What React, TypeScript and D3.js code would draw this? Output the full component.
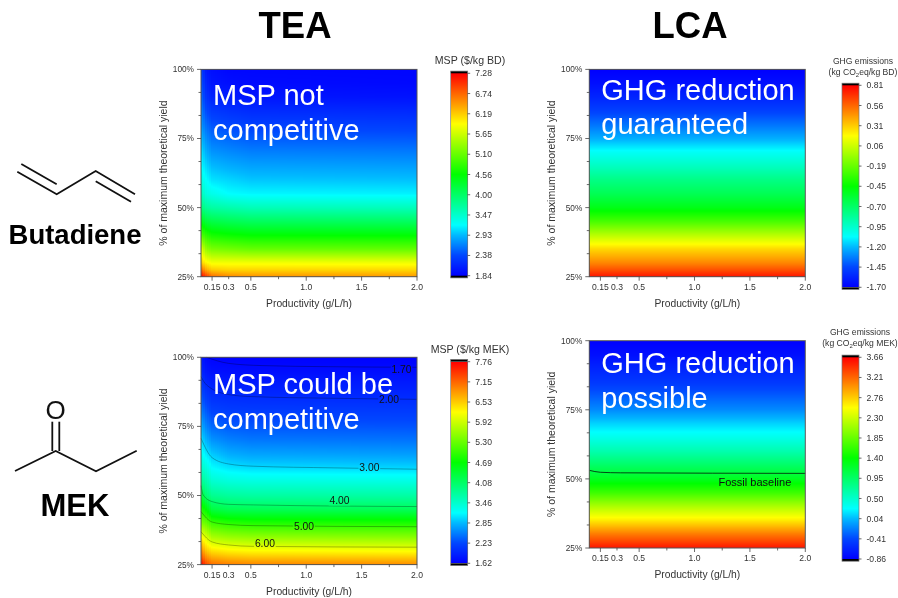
import React from "react";
import * as d3 from "d3";

const FONT = "'Liberation Sans', Arial, sans-serif";

const yields = [25, 27.5, 30, 35, 40, 45, 50, 55, 60, 65, 70, 75, 80, 85, 90, 95, 100];
const prods = [0.05, 0.1, 0.15, 0.3, 0.5, 2];
const flatProds = [0.05, 2];

const mspBd = [
  [7.28, 6.74, 6.19, 5.76, 4.99, 4.45, 3.91, 3.58, 3.36, 3.2, 3.09, 2.93, 2.76, 2.66, 2.55, 2.44, 2.33],
  [6.95, 6.35, 5.97, 5.32, 4.78, 4.23, 3.74, 3.36, 3.2, 3.04, 2.87, 2.71, 2.55, 2.38, 2.22, 2.11, 2.0],
  [6.7, 6.2, 5.87, 5.21, 4.67, 4.18, 3.69, 3.31, 3.09, 2.93, 2.76, 2.6, 2.44, 2.28, 2.11, 2.0, 1.95],
  [6.55, 6.14, 5.87, 5.16, 4.61, 4.12, 3.64, 3.2, 3.04, 2.87, 2.71, 2.55, 2.38, 2.22, 2.06, 1.95, 1.89],
  [6.5, 6.14, 5.87, 5.1, 4.56, 4.07, 3.58, 3.17, 2.98, 2.82, 2.66, 2.49, 2.33, 2.17, 2.0, 1.92, 1.89],
  [6.46, 6.12, 5.85, 5.08, 4.54, 4.05, 3.56, 3.15, 2.96, 2.8, 2.64, 2.47, 2.31, 2.15, 1.98, 1.9, 1.88],
];
const ghgBdColumn = [0.76, 0.61, 0.48, 0.28, 0.01, -0.27, -0.5, -0.65, -0.77, -0.92, -1.05, -1.22, -1.35, -1.47, -1.57, -1.65, -1.7];
const mspMek = [
  [7.76, 7.3, 6.95, 6.25, 5.45, 4.9, 4.35, 3.85, 3.5, 3.25, 3.03, 2.8, 2.55, 2.35, 2.15, 1.95, 1.85],
  [7.3, 6.9, 6.55, 5.97, 5.3, 4.65, 4.0, 3.65, 3.35, 3.05, 2.8, 2.55, 2.35, 2.15, 1.97, 1.8, 1.68],
  [7.1, 6.75, 6.4, 5.7, 5.05, 4.3, 3.82, 3.45, 3.15, 2.92, 2.65, 2.42, 2.22, 2.05, 1.9, 1.75, 1.65],
  [7.0, 6.65, 6.3, 5.6, 4.93, 4.2, 3.75, 3.38, 3.05, 2.78, 2.55, 2.35, 2.17, 2.02, 1.88, 1.74, 1.63],
  [6.95, 6.6, 6.25, 5.55, 4.88, 4.18, 3.72, 3.35, 3.0, 2.73, 2.5, 2.32, 2.16, 2.01, 1.87, 1.73, 1.63],
  [6.9, 6.55, 6.2, 5.5, 4.85, 4.15, 3.7, 3.33, 2.97, 2.7, 2.48, 2.3, 2.15, 2.0, 1.87, 1.73, 1.63],
];
const ghgMekColumn = [3.57, 3.34, 3.12, 2.62, 2.17, 1.67, 1.26, 0.95, 0.63, 0.36, 0.13, -0.14, -0.32, -0.5, -0.63, -0.77, -0.86];

const xTicksMajor = [0.15, 0.5, 1.0, 1.5, 2.0];
const xTickLabels = [
  { v: 0.15, t: "0.15" }, { v: 0.3, t: "0.3" }, { v: 0.5, t: "0.5" },
  { v: 1.0, t: "1.0" }, { v: 1.5, t: "1.5" }, { v: 2.0, t: "2.0" },
];
const xTicksMinor = [0.3, 0.75, 1.25, 1.75];
const yTicksMajor = [25, 50, 75, 100];
const yTicksMinor = [33.33, 41.67, 58.33, 66.67, 83.33, 91.67];

const bdMspTicks = ["1.84", "2.38", "2.93", "3.47", "4.00", "4.56", "5.10", "5.65", "6.19", "6.74", "7.28"];
const bdGhgTicks = ["-1.70", "-1.45", "-1.20", "-0.95", "-0.70", "-0.45", "-0.19", "0.06", "0.31", "0.56", "0.81"];
const mekMspTicks = ["1.62", "2.23", "2.85", "3.46", "4.08", "4.69", "5.30", "5.92", "6.53", "7.15", "7.76"];
const mekGhgTicks = ["-0.86", "-0.41", "0.04", "0.50", "0.95", "1.40", "1.85", "2.30", "2.76", "3.21", "3.66"];

type Pt = [number, number];
const contour170: Pt[] = [[0.1, 100], [0.3, 97.8], [0.6, 97], [1.2, 96.6], [2, 96.4]];
const contour200: Pt[] = [[0.05, 93], [0.1, 90], [0.3, 86.5], [0.5, 85.8], [1.2, 85.2], [2, 84.8]];
const contour300: Pt[] = [[0.05, 70.7], [0.15, 63.7], [0.3, 61.4], [0.52, 60.6], [1.25, 60], [2, 59.5]];
const contour400: Pt[] = [[0.05, 53.6], [0.07, 50.2], [0.15, 47.8], [0.3, 46.8], [0.52, 46.6], [2, 46]];
const contour500: Pt[] = [[0.05, 44.2], [0.15, 40.4], [0.3, 39.5], [0.52, 39.1], [2, 38.7]];
const contour600: Pt[] = [[0.05, 36.9], [0.15, 33.2], [0.3, 32.1], [0.52, 31.6], [2, 31.3]];
const contourFossil: Pt[] = [[0.05, 53.1], [0.15, 52.4], [0.33, 52.2], [2, 52]];

const mekMspLabels = [
  { t: "1.70", p: 1.86, y: 95.7 }, { t: "2.00", p: 1.747, y: 84.6 }, { t: "3.00", p: 1.57, y: 60 },
  { t: "4.00", p: 1.3, y: 48.2 }, { t: "5.00", p: 0.98, y: 39 }, { t: "6.00", p: 0.627, y: 32.7 },
];
const fossilLabels = [{ t: "Fossil baseline", p: 1.545, y: 48.7 }];

const butadieneBonds: Pt[][] = [
  [[17.3, 171.7], [56.7, 194.3], [95.7, 171], [135, 194.3]],
  [[21.3, 164], [56.7, 184.3]],
  [[95.7, 181.3], [131, 201.7]],
];
const mekBonds: Pt[][] = [
  [[15, 471], [55.7, 451], [96, 471.3], [136.7, 450.7]],
  [[52.3, 421.7], [52.3, 451]],
  [[59.3, 421.7], [59.3, 451]],
];

const rainbow = d3.scaleLinear<string>()
  .domain([0, 0.1, 0.2, 0.25, 0.5, 0.75, 1])
  .range(["#0000ff", "#0046ff", "#00b9ff", "#00ffff", "#00ff00", "#ffff00", "#ff0000"])
  .clamp(true);

function Heat({ px, py, x, y, gridProds, grid, color }: any) {
  const xi = d3.scaleLinear().domain(gridProds).range(gridProds.map((_: number, i: number) => i)).clamp(true);
  const yi = d3.scaleLinear().domain(yields).range(yields.map((_, i) => i)).clamp(true);
  const value = (p: number, v: number) => {
    const a = xi(p), b = yi(v);
    const a0 = Math.min(Math.floor(a), gridProds.length - 2), b0 = Math.min(Math.floor(b), yields.length - 2);
    const fa = a - a0, fb = b - b0;
    return d3.interpolateNumber(
      d3.interpolateNumber(grid[a0][b0], grid[a0][b0 + 1])(fb),
      d3.interpolateNumber(grid[a0 + 1][b0], grid[a0 + 1][b0 + 1])(fb),
    )(fa);
  };
  const x0 = Math.round(px[0]), x1 = Math.round(px[1]);
  const y0 = Math.round(py[0]), y1 = Math.round(py[1]);
  // columns are dense where the field bends (low productivity), coarse where it is flat
  const edges = gridProds.length === 2 ? [x0, x1] : [...d3.range(x0, x0 + 54, 2), ...d3.range(x0 + 54, x1, 8), x1];
  const rows = d3.range(y0, y1, 1);
  const cells: { cx: number; w: number }[] = edges.slice(0, -1).map((e: number, i: number) => ({ cx: e, w: edges[i + 1] - e }));
  return (
    <g shapeRendering="crispEdges">
      {cells.map(({ cx, w }) => rows.map((cy) => (
        <rect key={cx + "_" + cy} x={cx} y={cy} width={w} height={1}
          fill={color(value(x.invert(cx + w / 2), y.invert(cy + 0.5)))} />
      )))}
    </g>
  );
}

function Panel(props: any) {
  const { id, left, top, gridProds, grid, ticks, legend, lines, labels, overlay, baselines, lg } = props;
  const width = 216, height = 207.3;
  const x = d3.scaleLinear().domain([0.05, 2]).range([left, left + width]);
  const y = d3.scaleLinear().domain([25, 100]).range([top + height, top]);
  const bottom = top + height;
  const barScale = d3.scaleLinear().domain([0, ticks.length - 1]).range([lg.bot, lg.top]);
  const t2c = (v: number) => rainbow((v - +ticks[0]) / (+ticks[ticks.length - 1] - +ticks[0]));
  const line = d3.line<Pt>().x((d) => x(d[0])).y((d) => y(d[1])).curve(d3.curveMonotoneX);
  const barRows = d3.range(Math.round(lg.top), Math.round(lg.bot), 1);
  return (
    <g fontFamily={FONT}>
      <Heat px={[left, left + width]} py={[top, bottom]} x={x} y={y} gridProds={gridProds} grid={grid} color={t2c} />
      <mask id={"m" + id} maskUnits="userSpaceOnUse" x={0} y={0} width={898} height={598}>
        <rect x={0} y={0} width={898} height={598} fill="#fff" />
        {labels.map((l: any) => (
          <rect key={l.t} x={x(l.p) - l.t.length * 2.7} y={y(l.y) - 5} width={l.t.length * 5.4} height={10} fill="#000" />
        ))}
      </mask>
      <g mask={`url(#m${id})`}>
        {lines.map((l: Pt[], i: number) => (
          <path key={i} d={line(l) as string} fill="none" stroke="#000" strokeOpacity={lines.length === 1 ? 0.8 : 0.4} strokeWidth={lines.length === 1 ? 0.9 : 0.7} />
        ))}
      </g>
      {labels.map((l: any) => (
        <text key={l.t} x={x(l.p)} y={y(l.y)} dy="0.35em" textAnchor="middle" fontSize={lines.length === 1 ? 11 : 10.3} fill="#111">{l.t}</text>
      ))}
      <rect x={left} y={top} width={width} height={height} fill="none" stroke="#555" strokeWidth={1} />
      {xTicksMajor.map((t) => <line key={t} x1={x(t)} x2={x(t)} y1={bottom} y2={bottom + 4} stroke="#444" strokeWidth={0.8} />)}
      {xTicksMinor.map((t) => <line key={t} x1={x(t)} x2={x(t)} y1={bottom} y2={bottom + 2.5} stroke="#444" strokeWidth={0.8} />)}
      {xTickLabels.map((t) => (
        <text key={t.t} x={x(t.v)} y={bottom + 13} textAnchor="middle" fontSize={8.6} fill="#333">{t.t}</text>
      ))}
      {yTicksMajor.map((t) => (
        <g key={t}>
          <line x1={left - 4} x2={left} y1={y(t)} y2={y(t)} stroke="#444" strokeWidth={0.8} />
          <text x={left - 7} y={y(t)} dy="0.35em" textAnchor="end" fontSize={8.3} fill="#333">{t}%</text>
        </g>
      ))}
      {yTicksMinor.map((t) => <line key={t} x1={left - 2.5} x2={left} y1={y(t)} y2={y(t)} stroke="#444" strokeWidth={0.8} />)}
      <text x={left + width / 2} y={bottom + 30} textAnchor="middle" fontSize={10.3} fill="#333">Productivity (g/L/h)</text>
      <text transform={`translate(${left - 34.5},${top + height / 2}) rotate(-90)`} textAnchor="middle" fontSize={10.5} fill="#333">% of maximum theoretical yield</text>
      {overlay.map((s: string, i: number) => (
        <text key={s} x={left + 12} y={baselines[i]} fontSize={29} fill="#fff">{s}</text>
      ))}
      <g shapeRendering="crispEdges">
        {barRows.map((r) => (
          <rect key={r} x={lg.x} y={r} width={17} height={1} fill={rainbow(barScale.invert(r + 0.5) / (ticks.length - 1))} />
        ))}
      </g>
      <rect x={lg.x} y={lg.top - lg.cap} width={17} height={lg.cap} fill="#000" />
      <rect x={lg.x} y={lg.bot} width={17} height={lg.cap} fill="#000" />
      <rect x={lg.x} y={lg.top - lg.cap} width={17} height={lg.bot - lg.top + lg.cap * 2} fill="none" stroke="#777" strokeWidth={0.7} />
      {ticks.map((t: string, i: number) => (
        <g key={t}>
          <line x1={lg.x + 17} x2={lg.x + 19.5} y1={barScale(i)} y2={barScale(i)} stroke="#444" strokeWidth={0.8} />
          <text x={lg.x + 24.5} y={barScale(i)} dy="0.35em" fontSize={8.6} fill="#333">{t}</text>
        </g>
      ))}
      {legend}
    </g>
  );
}

function Bonds({ bonds }: { bonds: Pt[][] }) {
  const l = d3.line<Pt>();
  return <g>{bonds.map((b, i) => <path key={i} d={l(b) as string} fill="none" stroke="#111" strokeWidth={1.8} />)}</g>;
}

function GhgTitle({ cx, y1, y2, unit }: { cx: number; y1: number; y2: number; unit: string }) {
  return (
    <g fontSize={8.6} fill="#333" textAnchor="middle">
      <text x={cx} y={y1}>GHG emissions</text>
      <text x={cx} y={y2}>(kg CO<tspan fontSize={6} dy={2}>2</tspan><tspan dy={-2}>eq/kg {unit})</tspan></text>
    </g>
  );
}

export default function App() {
  return (
    <svg width={898} height={598} viewBox="0 0 898 598" style={{ position: "absolute", left: 0, top: 0, display: "block", filter: "blur(0.35px)" }}>
      <rect width={898} height={598} fill="#fff" />
      <g fontFamily={FONT} fontWeight="bold" fill="#000">
        <text x={295} y={37.5} textAnchor="middle" fontSize={36.5}>TEA</text>
        <text x={690} y={37.5} textAnchor="middle" fontSize={36.5}>LCA</text>
        <text x={75} y={244} textAnchor="middle" fontSize={27.5}>Butadiene</text>
        <text x={75} y={516} textAnchor="middle" fontSize={31}>MEK</text>
      </g>
      <Bonds bonds={butadieneBonds} />
      <Bonds bonds={mekBonds} />
      <text x={55.7} y={419} textAnchor="middle" fontFamily={FONT} fontSize={26} fill="#111">O</text>
      <Panel id="a" left={201} top={69.4} gridProds={prods} grid={mspBd} ticks={bdMspTicks}
        lg={{ x: 450.7, top: 73.3, bot: 275.7, cap: 2.2 }} lines={[]} labels={[]}
        overlay={["MSP not", "competitive"]} baselines={[105, 140]}
        legend={<text x={470} y={64} textAnchor="middle" fontSize={10.6} fill="#333">MSP ($/kg BD)</text>} />
      <Panel id="b" left={589.3} top={69.4} gridProds={flatProds} grid={[ghgBdColumn, ghgBdColumn]} ticks={bdGhgTicks}
        lg={{ x: 842, top: 85.3, bot: 287.3, cap: 2.1 }} lines={[]} labels={[]}
        overlay={["GHG reduction", "guaranteed"]} baselines={[100, 134]}
        legend={<GhgTitle cx={863} y1={64} y2={75} unit="BD" />} />
      <Panel id="c" left={201} top={357.3} gridProds={prods} grid={mspMek} ticks={mekMspTicks}
        lg={{ x: 450.7, top: 361.7, bot: 563.3, cap: 2.3 }}
        lines={[contour170, contour200, contour300, contour400, contour500, contour600]} labels={mekMspLabels}
        overlay={["MSP could be", "competitive"]} baselines={[394, 429]}
        legend={<text x={470} y={352.7} textAnchor="middle" fontSize={10.6} fill="#333">MSP ($/kg MEK)</text>} />
      <Panel id="d" left={589.3} top={340.7} gridProds={flatProds} grid={[ghgMekColumn, ghgMekColumn]} ticks={mekGhgTicks}
        lg={{ x: 842, top: 357.3, bot: 559, cap: 2.2 }} lines={[contourFossil]} labels={fossilLabels}
        overlay={["GHG reduction", "possible"]} baselines={[373, 408]}
        legend={<GhgTitle cx={860} y1={335} y2={346} unit="MEK" />} />
    </svg>
  );
}
